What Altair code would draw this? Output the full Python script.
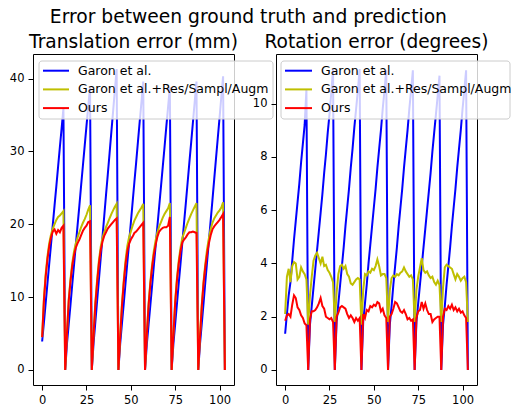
import altair as alt
import pandas as pd

# ---------------- data ----------------
frame = list(range(104))

trans_garon = [
    3.9, 6.5, 9.2, 11.9, 14.6, 17.2, 19.9, 22.6, 25.2, 27.9, 30.6, 33.2, 35.9, 0.0,
    3.6, 6.3, 9.0, 11.8, 14.5, 17.2, 19.9, 22.6, 25.4, 28.1, 30.8, 33.5, 36.2, 38.8, 0.0,
    3.7, 6.6, 9.5, 12.4, 15.3, 18.2, 21.1, 24.0, 26.8, 29.7, 32.6, 35.5, 38.4, 41.3, 0.0,
    3.6, 6.4, 9.1, 11.9, 14.7, 17.4, 20.2, 23.0, 25.8, 28.5, 31.3, 34.1, 36.8, 39.6, 0.0,
    3.5, 6.2, 8.9, 11.6, 14.4, 17.1, 19.8, 22.5, 25.2, 27.9, 30.6, 33.4, 36.1, 38.8, 0.0,
    3.6, 6.3, 9.1, 11.9, 14.6, 17.4, 20.2, 22.9, 25.7, 28.5, 31.2, 34.0, 36.8, 39.6, 0.0,
    3.6, 6.4, 9.2, 12.1, 14.9, 17.7, 20.5, 23.3, 26.2, 29.0, 31.8, 34.6, 37.5, 40.3, 0.0,
]
trans_garon_aug = [
    4.5, 9.8, 13.2, 15.6, 17.4, 18.6, 19.4, 20.0, 20.6, 21.0, 21.2, 21.5, 21.8, 0.0,
    5.1, 9.7, 12.5, 14.7, 16.3, 17.4, 18.2, 18.9, 19.6, 20.2, 20.7, 21.3, 22.0, 22.6, 0.0,
    5.0, 9.3, 12.4, 15.0, 16.9, 18.1, 18.9, 19.6, 20.2, 20.8, 21.4, 21.9, 22.4, 22.8, 0.0,
    4.8, 9.1, 12.3, 15.0, 17.0, 18.2, 19.0, 19.8, 20.5, 21.0, 21.5, 21.9, 22.3, 22.8, 0.0,
    5.0, 9.1, 12.1, 14.5, 16.4, 17.8, 18.9, 19.7, 20.3, 20.9, 21.4, 21.8, 22.2, 22.9, 0.0,
    5.0, 9.5, 12.6, 15.0, 16.8, 18.1, 18.8, 19.5, 20.2, 20.8, 21.4, 21.9, 22.4, 22.9, 0.0,
    4.8, 9.0, 12.2, 14.6, 16.6, 18.1, 19.3, 20.2, 20.8, 21.2, 21.6, 21.9, 22.3, 23.0, 0.0,
]
trans_ours = [
    4.5, 9.5, 12.8, 15.2, 17.0, 18.2, 19.0, 19.3, 18.7, 19.2, 18.9, 19.5, 19.8, 0.0,
    5.0, 9.5, 12.2, 14.3, 15.8, 16.8, 17.4, 17.9, 18.5, 19.1, 19.5, 19.8, 20.3, 20.4, 0.0,
    4.8, 9.0, 12.0, 14.6, 16.4, 17.6, 18.4, 18.9, 19.4, 19.7, 20.0, 20.3, 20.6, 20.8, 0.0,
    4.6, 8.8, 11.9, 14.5, 16.3, 17.3, 17.9, 18.3, 18.8, 19.0, 19.3, 19.6, 19.9, 20.2, 0.0,
    4.8, 8.8, 11.8, 14.1, 15.9, 17.2, 18.3, 19.0, 19.3, 19.5, 19.6, 19.6, 19.8, 21.0, 0.0,
    4.8, 9.2, 12.3, 14.6, 16.3, 17.5, 17.9, 18.2, 18.6, 18.9, 18.9, 19.0, 18.9, 18.8, 0.0,
    4.6, 8.8, 11.9, 14.2, 16.0, 17.4, 18.5, 19.3, 19.7, 20.0, 20.3, 20.6, 21.0, 21.4, 0.0,
]
rot_garon = [
    1.36, 2.1, 2.8, 3.3, 4.1, 4.9, 5.6, 6.3, 7.0, 7.8, 8.5, 9.2, 10.55, 0.0,
    1.7, 2.4, 3.1, 3.8, 4.5, 5.2, 5.9, 6.6, 7.4, 8.1, 8.9, 9.6, 10.4, 11.3, 0.0,
    1.8, 2.5, 3.2, 3.9, 4.6, 5.4, 6.1, 6.8, 7.6, 8.3, 9.1, 9.8, 10.5, 11.3, 0.0,
    1.8, 2.5, 3.2, 4.0, 4.7, 5.4, 6.1, 6.8, 7.6, 8.3, 9.0, 9.8, 10.5, 11.25, 0.0,
    1.7, 2.4, 3.2, 3.9, 4.6, 5.4, 6.1, 6.8, 7.6, 8.3, 9.0, 9.8, 10.5, 11.25, 0.0,
    1.8, 2.5, 3.2, 3.9, 4.6, 5.3, 6.0, 6.7, 7.4, 8.2, 8.9, 9.6, 10.3, 11.05, 0.0,
    1.7, 2.4, 3.2, 3.9, 4.6, 5.4, 6.1, 6.8, 7.6, 8.3, 9.0, 9.8, 10.5, 11.25, 0.0,
]
rot_garon_aug = [
    2.1, 3.5, 3.8, 3.3, 3.9, 4.05, 4.0, 3.4, 3.5, 3.85, 3.7, 3.6, 3.4, 1.7,
    2.8, 3.5, 4.1, 4.3, 4.4, 4.2, 4.0, 4.25, 3.9, 3.95, 3.75, 3.65, 3.5, 3.3, 1.8,
    2.9, 3.6, 3.9, 3.95, 3.8, 3.9, 3.6, 3.5, 3.25, 3.2, 3.3, 3.4, 3.45, 3.4, 1.7,
    3.0, 3.6, 3.55, 3.7, 3.65, 3.8, 3.75, 3.9, 4.15, 3.9, 3.55, 3.6, 3.6, 3.45, 1.8,
    3.0, 3.45, 3.55, 3.5, 3.6, 3.55, 3.65, 3.7, 3.85, 3.7, 3.6, 3.5, 3.55, 3.4, 1.8,
    3.0, 3.5, 3.85, 4.2, 3.75, 3.65, 3.7, 3.55, 3.45, 3.5, 3.3, 3.2, 3.35, 3.2, 1.8,
    3.1, 3.85, 3.95, 3.9, 3.85, 3.8, 3.6, 3.4, 3.6, 3.5, 3.35, 3.45, 3.5, 3.3, 1.8,
]
rot_ours = [
    1.85, 2.05, 2.1, 2.0, 2.45, 2.8, 2.7, 2.35, 2.25, 2.05, 1.95, 1.75, 1.68, 0.0,
    1.9, 2.2, 2.2, 2.25, 2.35, 2.5, 2.7, 2.4, 2.3, 2.0, 1.95, 1.9, 1.95, 1.8, 0.0,
    2.0, 2.15, 2.35, 2.4, 2.35, 2.3, 2.1, 1.95, 2.05, 1.95, 1.8, 1.95, 1.85, 1.95, 0.0,
    2.1, 1.95, 2.25, 2.2, 2.4, 2.35, 2.45, 2.4, 2.55, 2.5, 2.2, 2.3, 2.05, 1.95, 0.0,
    2.0, 2.1, 2.3, 2.55, 2.5, 2.35, 2.2, 2.15, 2.25, 2.1, 1.9, 1.95, 1.85, 1.9, 0.0,
    1.95, 2.2, 2.25, 2.55, 2.3, 2.5, 2.25, 2.1, 2.1, 1.8, 1.9, 1.95, 2.0, 2.0, 0.0,
    2.0, 2.3, 2.25, 2.4, 2.3, 2.45, 2.25, 2.35, 2.2, 2.3, 2.15, 2.2, 2.05, 1.95, 0.0,
]

series_names = ["Garon et al.", "Garon et al.+Res/Sampl/Augm", "Ours"]
series_colors = ["#0000ff", "#bfbf00", "#ff0000"]
x_ticks = [0, 25, 50, 75, 100]
trans_ticks = [0, 10, 20, 30, 40]
rot_ticks = [0, 2, 4, 6, 8, 10]

suptitle = "Error between ground truth and prediction"
trans_title = "Translation error (mm)"
rot_title = "Rotation error (degrees)"

# ---------------- chart ----------------
FONT = "DejaVu Sans"
W, H = 201, 331

df = pd.DataFrame({
    "frame": frame,
    "tg": trans_garon, "ta": trans_garon_aug, "to": trans_ours,
    "rg": rot_garon, "ra": rot_garon_aug, "ro": rot_ours,
})
one = alt.Data(values=[{"a": 1}])


def panel(cols, ydom, yticks, title, box_x1, box_x2, key_x1, key_x2, text_x):
    x = alt.X("frame:Q", scale=alt.Scale(domain=[-5.15, 108.15], nice=False, zero=False),
              axis=alt.Axis(values=x_ticks, title=None, format="d"))
    layers = []
    for col, color in zip(cols, series_colors):
        layers.append(
            alt.Chart(df).mark_line(color=color, strokeWidth=2).encode(
                x=x,
                y=alt.Y(f"{col}:Q", scale=alt.Scale(domain=ydom, nice=False, zero=False),
                        axis=alt.Axis(values=yticks, title=None, format="d")),
            )
        )
    layers.append(
        alt.Chart(one).mark_rect(fill="white", fillOpacity=0.8, stroke="#cccccc",
                                 strokeWidth=1, cornerRadius=3).encode(
            x=alt.value(box_x1), x2=alt.value(box_x2), y=alt.value(7), y2=alt.value(65))
    )
    for i, (name, color) in enumerate(zip(series_names, series_colors)):
        yy = 16.7 + i * 18.7
        layers.append(
            alt.Chart(one).mark_rule(color=color, strokeWidth=2).encode(
                x=alt.value(key_x1), x2=alt.value(key_x2), y=alt.value(yy))
        )
        layers.append(
            alt.Chart(one).mark_text(text=name, align="left", baseline="middle", font=FONT,
                                     fontSize=12.5, color="black").encode(
                x=alt.value(text_x), y=alt.value(yy))
        )
    return alt.layer(*layers).properties(
        width=W, height=H,
        title=alt.TitleParams(title, font=FONT, fontSize=18.6, fontWeight="normal",
                              color="black", anchor="middle", offset=-13,
                              baseline="alphabetic"),
    )


left = panel(["tg", "ta", "to"], [-2.07, 43.37], trans_ticks, trans_title, 6, 240, 10, 36, 45)
right = panel(["rg", "ra", "ro"], [-0.565, 11.865], rot_ticks, rot_title, 5, 234, 9, 36, 45)

chart = alt.hconcat(
    left, right, spacing=42, bounds="flush",
    title=alt.TitleParams(suptitle, font=FONT, fontSize=18.7, fontWeight="normal", color="black",
                          anchor="middle", dx=-12, offset=-9, baseline="alphabetic"),
).configure_view(
    stroke="black", strokeWidth=1, fill="white"
).configure_axis(
    domain=False, grid=False, ticks=True, tickColor="black", tickSize=5, tickWidth=1,
    labelFont=FONT, labelFontSize=11.5, labelColor="black", labelPadding=4,
).properties(
    padding={"left": 8, "top": 8, "right": 0, "bottom": 0},
    background="white",
)

chart.save("out.html", embed_options={"renderer": "svg", "actions": False})
